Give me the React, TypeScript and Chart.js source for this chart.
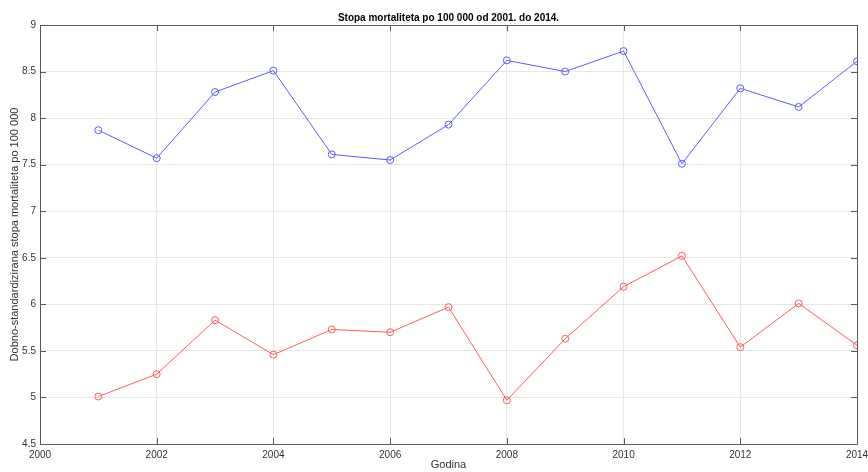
import React, { useEffect, useRef } from "react";
import { Chart, registerables } from "chart.js";

Chart.register(...registerables);

const years = [2001, 2002, 2003, 2004, 2005, 2006, 2007, 2008, 2009, 2010, 2011, 2012, 2013, 2014];
const blueSeries = [7.87, 7.57, 8.28, 8.51, 7.61, 7.55, 7.93, 8.62, 8.5, 8.72, 7.51, 8.32, 8.12, 8.61];
const redSeries = [5.01, 5.25, 5.83, 5.46, 5.73, 5.7, 5.97, 4.97, 5.63, 6.19, 6.52, 5.54, 6.01, 5.56];
const xTicks = [2000, 2002, 2004, 2006, 2008, 2010, 2012, 2014];
const yTicks = [4.5, 5, 5.5, 6, 6.5, 7, 7.5, 8, 8.5, 9];

const titleText = "Stopa mortaliteta po 100 000 od 2001. do 2014.";
const xTitle = "Godina";
const yTitle = "Dobno-standardizirana stopa mortaliteta po 100 000";

const FONT = "'Liberation Sans', Arial, Helvetica, sans-serif";
const AXIS_COLOR = "#5a5a5a";

const boxPlugin = {
  id: "matlabBox",
  afterDatasetsDraw(chart: any) {
    const { ctx, chartArea, scales } = chart;
    const { left, right, top, bottom } = chartArea;
    ctx.save();
    ctx.strokeStyle = AXIS_COLOR;
    ctx.lineWidth = 1;
    ctx.beginPath();
    ctx.rect(Math.round(left) + 0.5, Math.round(top) + 0.5, Math.round(right - left), Math.round(bottom - top));
    ctx.stroke();
    const tl = 6;
    ctx.beginPath();
    xTicks.forEach((v) => {
      const x = Math.round(scales.x.getPixelForValue(v)) + 0.5;
      ctx.moveTo(x, bottom);
      ctx.lineTo(x, bottom - tl);
      ctx.moveTo(x, top);
      ctx.lineTo(x, top + tl);
    });
    yTicks.forEach((v) => {
      const y = Math.round(scales.y.getPixelForValue(v)) + 0.5;
      ctx.moveTo(left, y);
      ctx.lineTo(left + tl, y);
      ctx.moveTo(right, y);
      ctx.lineTo(right - tl, y);
    });
    ctx.stroke();
    // title centred over the plot area
    ctx.fillStyle = "#000";
    ctx.font = "bold 10px " + FONT;
    ctx.textAlign = "center";
    ctx.textBaseline = "alphabetic";
    ctx.fillText(titleText, (left + right) / 2, top - 4);
    ctx.restore();
  },
};

export default function App() {
  const ref = useRef<HTMLCanvasElement | null>(null);
  useEffect(() => {
    document.body.style.margin = "0";
    const canvas = ref.current;
    if (!canvas) return;
    const toPts = (arr: number[]) => years.map((y, i) => ({ x: y, y: arr[i] }));
    const chart = new Chart(canvas, {
      type: "line",
      data: {
        datasets: [
          {
            data: toPts(blueSeries),
            borderColor: "#5c5cff",
            backgroundColor: "rgba(0,0,0,0)",
            borderWidth: 1,
            pointRadius: 3.5,
            pointBorderWidth: 1,
            pointBackgroundColor: "rgba(0,0,0,0)",
            pointBorderColor: "#5c5cff",
            tension: 0,
          },
          {
            data: toPts(redSeries),
            borderColor: "#ff5c5c",
            backgroundColor: "rgba(0,0,0,0)",
            borderWidth: 1,
            pointRadius: 3.5,
            pointBorderWidth: 1,
            pointBackgroundColor: "rgba(0,0,0,0)",
            pointBorderColor: "#ff5c5c",
            tension: 0,
          },
        ],
      },
      options: {
        animation: false,
        responsive: false,
        maintainAspectRatio: false,
        layout: { padding: { left: 0, right: 11, top: 25, bottom: 0 } },
        plugins: {
          legend: { display: false },
          tooltip: { enabled: false },
          title: { display: false },
        },
        scales: {
          x: {
            type: "linear",
            min: 2000,
            max: 2014,
            afterBuildTicks: (s: any) => {
              s.ticks = xTicks.map((v) => ({ value: v }));
            },
            afterFit: (s: any) => {
              s.height = 28;
              s.paddingRight = 0;
              s.paddingLeft = 0;
            },
            grid: { color: "#e6e6e6", drawTicks: false, lineWidth: 1 },
            border: { display: false },
            ticks: {
              color: "#333",
              font: { family: FONT, size: 10 },
              padding: 5,
              maxRotation: 0,
              autoSkip: false,
              callback: (v: any) => String(v),
            },
            title: {
              display: true,
              text: xTitle,
              color: "#333",
              font: { family: FONT, size: 11 },
              padding: { top: 0, bottom: 0 },
            },
          },
          y: {
            type: "linear",
            min: 4.5,
            max: 9,
            afterBuildTicks: (s: any) => {
              s.ticks = yTicks.map((v) => ({ value: v }));
            },
            afterFit: (s: any) => {
              s.width = 40;
              s.paddingTop = 0;
              s.paddingBottom = 0;
            },
            grid: { color: "#e6e6e6", drawTicks: false, lineWidth: 1 },
            border: { display: false },
            ticks: {
              color: "#333",
              font: { family: FONT, size: 10 },
              padding: 4,
              callback: (v: any) => String(v),
            },
            title: {
              display: true,
              text: yTitle,
              color: "#333",
              font: { family: FONT, size: 11 },
              padding: { top: 8, bottom: 0 },
            },
          },
        },
      },
      plugins: [boxPlugin],
    } as any);
    return () => chart.destroy();
  }, []);
  return (
    <div style={{ width: 868, height: 472, background: "#fff" }}>
      <canvas ref={ref} width={868} height={472} style={{ display: "block" }} />
    </div>
  );
}
